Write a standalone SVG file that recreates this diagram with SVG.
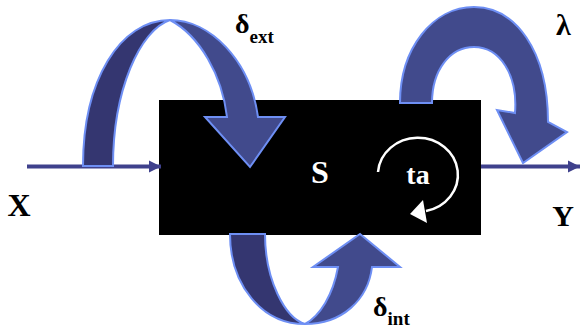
<svg xmlns="http://www.w3.org/2000/svg" width="580" height="329" viewBox="0 0 580 329">
<style>
.lbl{font-family:"Liberation Serif","Times New Roman",serif;font-weight:bold;fill:#000}
.wlbl{font-family:"Liberation Serif","Times New Roman",serif;font-weight:bold;fill:#fff}
.back{fill:#343670;stroke:#6e8ff4;stroke-width:2;stroke-linejoin:miter}
.front{fill:#414a8c;stroke:#6e8ff4;stroke-width:2;stroke-linejoin:miter}
.io{stroke:#3f418c;stroke-width:4;fill:none}
</style>
<defs>
<marker id="ioHead" markerUnits="userSpaceOnUse" markerWidth="14" markerHeight="14" refX="12" refY="7" orient="auto">
<path d="M0,1 L12,7 L0,13 Z" fill="#3f418c"/>
</marker>
</defs>
<rect width="580" height="329" fill="#fff"/>
<g id="system">
<rect x="159" y="100" width="322" height="135" fill="#000"/>
<text class="wlbl" x="320" y="183" font-size="32" text-anchor="middle">S</text>
</g>
<g id="ta">
<path d="M378,172 A40,37 0 1 1 426,211" fill="none" stroke="#fff" stroke-width="2.5"/>
<path d="M410,214 L423,200 L427,223 Z" fill="#fff"/>
<text class="wlbl" x="418" y="184" font-size="28" text-anchor="middle">ta</text>
</g>
<g id="x-label"><text class="lbl" x="19" y="216" font-size="32" text-anchor="middle">X</text></g>
<g id="y-label"><text class="lbl" x="563" y="226" font-size="30" text-anchor="middle">Y</text></g>
<g id="connectors">
<line class="io" x1="27" y1="166.5" x2="161" y2="166.5" marker-end="url(#ioHead)"/>
<line class="io" x1="481" y1="166.5" x2="580" y2="166.5" marker-end="url(#ioHead)"/>
<g id="delta-ext">
<path class="back" d="M83,166 C83,80 120,20 170,20 C140,30 113,90 113,166 Z"/>
<path class="front" d="M170,20 C210,20 250,60 258,117 L285,117 L250,167 L205,117 L227,117 C222,75 200,36 170,20 Z"/>
<text class="lbl" x="235" y="33" font-size="28">δ<tspan font-size="19" dy="10">ext</tspan></text>
</g>
<g id="lambda">
<path class="front" d="M400,103 C400,48 433,7 474,7 C515,7 548,50 548,122 L567,132 L523,163 L497,110 L515,113 C518,75 500,47 474,47 C450,47 432,70 432,103 Z"/>
<text class="lbl" x="556" y="35" font-size="30">λ</text>
</g>
<g id="delta-int">
<path class="back" d="M230,234 C230,285 262,324 305,324 C285,318 265,280 265,234 Z"/>
<path class="front" d="M305,324 C342,324 368,300 372,267 L400,267 L360,234 L313,267 L338,267 C333,295 320,316 305,324 Z"/>
<text class="lbl" x="373" y="316" font-size="28">δ<tspan font-size="19" dy="9">int</tspan></text>
</g>
</g>
</svg>
